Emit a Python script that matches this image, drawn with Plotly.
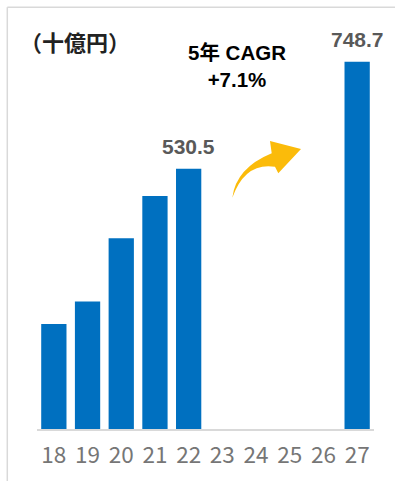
import plotly.graph_objects as go

years = ["18", "19", "20", "21", "22", "23", "24", "25", "26", "27"]
values = [214, 260, 389, 475, 530.5, None, None, None, None, 748.7]
labels = ["", "", "", "", "530.5", "", "", "", "", "748.7"]
unit_label = "（十億円）"
cagr_label = "<b>5年 CAGR</b><br><b>+7.1%</b>"

W, H = 395, 481
ML, MR, MT, MB = 37, 21, 0, 52
PW, PH = W - ML - MR, H - MT - MB


def px(x):
    return (x - ML) / PW


def py(y):
    return (H - MB - y) / PH


fig = go.Figure()
fig.add_trace(go.Bar(
    x=years, y=values,
    marker=dict(color="#0070C0", line=dict(width=0)),
    hoverinfo="skip",
))

# data labels
for i, (v, t) in enumerate(zip(values, labels)):
    if t:
        fig.add_annotation(
            x=i, y=v, text=f"<b>{t}</b>", showarrow=False,
            yanchor="bottom", yshift=9,
            font=dict(family="Liberation Sans, Arial, sans-serif", size=21, color="#595959"),
        )

fig.add_annotation(
    xref="paper", yref="paper", x=px(75), y=py(41), text=unit_label,
    showarrow=False, xanchor="center", yanchor="middle",
    font=dict(family="Noto Sans CJK JP, sans-serif", size=22, color="#222222", weight=700),
)
fig.add_annotation(
    xref="paper", yref="paper", x=px(237), y=py(66), text=cagr_label,
    showarrow=False, xanchor="center", yanchor="middle", align="center",
    font=dict(family="Liberation Sans, Noto Sans CJK JP, sans-serif", size=20.5, color="#000000"),
)

# curved arrow
pts = [
    ("M", 232.3, 197.7),
    ("Q", 236, 168, 271.7, 153.3),
    ("L", 270, 141),
    ("L", 301, 149),
    ("L", 278.3, 173.3),
    ("L", 275, 166.7),
    ("Q", 245, 162, 232.3, 197.7),
]
path = ""
for p in pts:
    cmd = p[0]
    coords = p[1:]
    s = []
    for i in range(0, len(coords), 2):
        s.append(f"{px(coords[i]):.5f},{py(coords[i+1]):.5f}")
    path += cmd + " " + " ".join(s) + " "
path += "Z"
fig.add_shape(type="path", xref="paper", yref="paper", path=path,
              fillcolor="#FBBB0A", line=dict(width=0))

# frame lines
fig.add_shape(type="line", xref="paper", yref="paper",
              x0=px(7.3), y0=py(7.3), x1=px(420), y1=py(7.3),
              line=dict(color="#D9D9D9", width=1.5))
fig.add_shape(type="line", xref="paper", yref="paper",
              x0=px(7.3), y0=py(7.3), x1=px(7.3), y1=py(500),
              line=dict(color="#D9D9D9", width=1.5))

fig.update_layout(
    width=W, height=H,
    margin=dict(l=ML, r=MR, t=MT, b=MB),
    paper_bgcolor="white", plot_bgcolor="white",
    bargap=0.25, showlegend=False,
    xaxis=dict(
        type="category", categoryorder="array", categoryarray=years,
        range=[-0.5, len(years) - 0.5], dtick=1,
        showgrid=False, showline=True, linecolor="#D9D9D9", linewidth=2,
        ticks="outside", ticklen=5, tickcolor="rgba(0,0,0,0)",
        tickfont=dict(family="Noto Sans CJK JP, sans-serif", size=22.5, color="#767676"),
        fixedrange=True,
    ),
    yaxis=dict(range=[0, (H - MB - MT) / ((429 - 61.7) / 748.7)], visible=False, fixedrange=True),
)

fig.write_html("out.html", config={"displayModeBar": False},
               post_script="document.body.style.margin='0';")
